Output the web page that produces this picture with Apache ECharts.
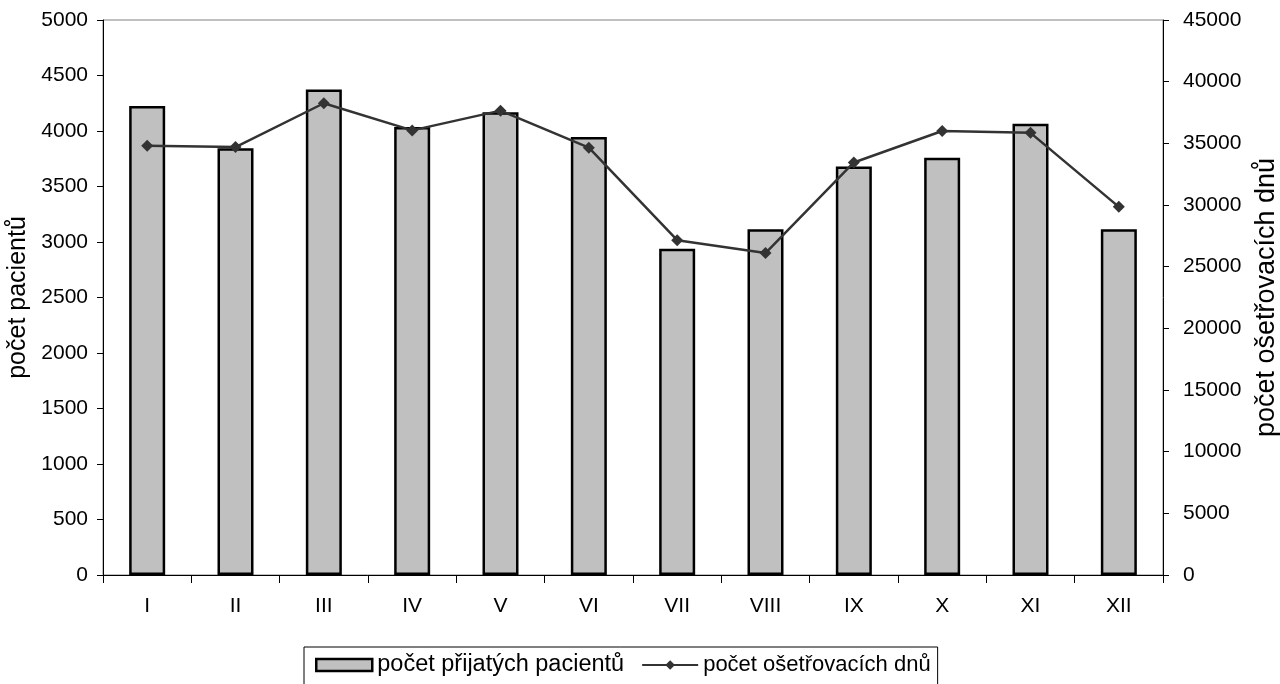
<!DOCTYPE html>
<html>
<head>
<meta charset="utf-8">
<script src="https://cdn.jsdelivr.net/npm/echarts@6/dist/echarts.min.js"></script>
<style>html,body{margin:0;padding:0;background:#fff}#c{width:1280px;height:684px}</style>
</head>
<body>
<div id="c"></div>
<script>
const categories = ['I','II','III','IV','V','VI','VII','VIII','IX','X','XI','XII'];
const prijati = [4225, 3845, 4375, 4035, 4170, 3945, 2940, 3115, 3680, 3760, 4065, 3115];
const osetrovaciDny = [34800, 34700, 38250, 36050, 37650, 34650, 27150, 26100, 33450, 36000, 35850, 29850];
const leftName = 'počet pacientů';
const rightName = 'počet ošetřovacích dnů';
const barName = 'počet přijatých pacientů';
const lineName = 'počet ošetřovacích dnů';

const font = 'Liberation Sans, Arial, sans-serif';
const plain = v => String(v);
const chart = echarts.init(document.getElementById('c'));
chart.setOption({
  animation: false,
  backgroundColor: '#fff',
  textStyle: { fontFamily: font },
  grid: { left: 103, right: 117, top: 20, bottom: 109, show: true, borderColor: '#808080', borderWidth: 1, outerBoundsMode: 'none', containLabel: false },
  legend: {
    top: 647, left: 304,
    itemGap: 17,
    padding: [6, 7, 14, 11],
    borderColor: '#000', borderWidth: 1,
    textStyle: { fontSize: 23.5, color: '#000', fontFamily: font },
    data: [
      { name: barName, icon: 'rect', itemStyle: { color: '#c0c0c0', borderColor: '#000', borderWidth: 2.5 } },
      { name: lineName, textStyle: { fontSize: 22 } }
    ],
    itemWidth: 56, itemHeight: 12
  },
  xAxis: {
    type: 'category', data: categories,
    axisLine: { lineStyle: { color: '#000', width: 1 } },
    axisTick: { show: true, alignWithLabel: false, length: 8, lineStyle: { color: '#000' } },
    axisLabel: { color: '#000', fontSize: 21, margin: 21, fontFamily: font },
    splitLine: { show: false }
  },
  yAxis: [
    {
      type: 'value', min: 0, max: 5000, interval: 500,
      name: leftName, nameLocation: 'middle', nameGap: 63, nameRotate: 90,
      nameTextStyle: { fontSize: 25, color: '#000', fontFamily: font },
      axisLine: { show: true, lineStyle: { color: '#000' } },
      axisTick: { show: true, length: 6, lineStyle: { color: '#000' } },
      axisLabel: { color: '#000', fontSize: 21, margin: 15, fontFamily: font, formatter: plain },
      splitLine: { show: false }
    },
    {
      type: 'value', min: 0, max: 45000, interval: 5000,
      name: rightName, nameLocation: 'middle', nameGap: 90, nameRotate: 90,
      nameTextStyle: { fontSize: 27, color: '#000', fontFamily: font },
      axisLine: { show: true, lineStyle: { color: '#000' } },
      axisTick: { show: true, length: 6, lineStyle: { color: '#000' } },
      axisLabel: { color: '#000', fontSize: 21, margin: 20, fontFamily: font, formatter: plain },
      splitLine: { show: false }
    }
  ],
  series: [
    {
      name: barName, type: 'bar', data: prijati, yAxisIndex: 0,
      barWidth: 36,
      itemStyle: { color: '#c0c0c0', borderColor: '#000', borderWidth: 2.5 }
    },
    {
      name: lineName, type: 'line', data: osetrovaciDny, yAxisIndex: 1,
      symbol: 'diamond', symbolSize: 12,
      lineStyle: { color: '#333333', width: 2.5 },
      itemStyle: { color: '#333333' }
    }
  ]
});
</script>
</body>
</html>
